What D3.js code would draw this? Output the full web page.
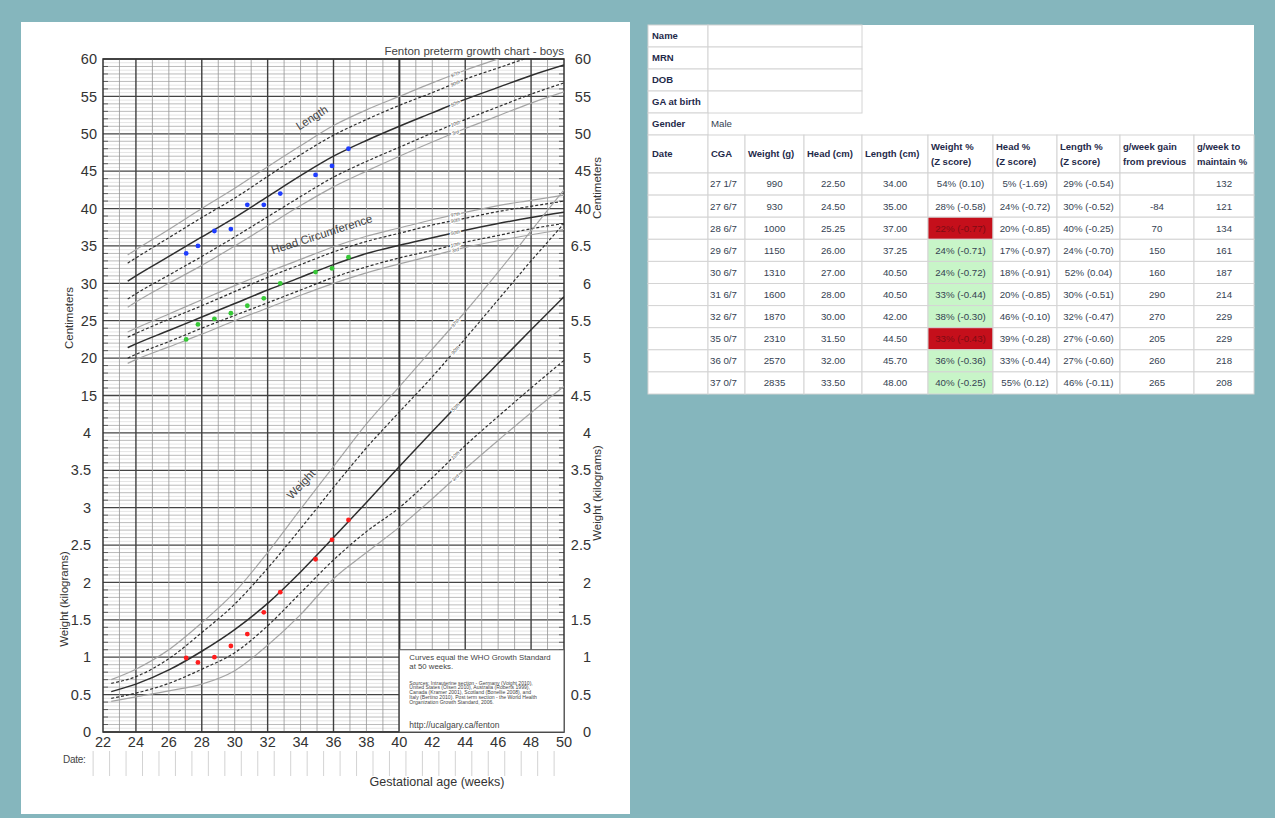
<!DOCTYPE html>
<html lang="en">
<head>
<meta charset="utf-8">
<title>Fenton preterm growth chart - boys</title>
<script src="https://cdn.jsdelivr.net/npm/d3@7/dist/d3.min.js"></script>
<style>
    html, body { margin: 0; padding: 0; background: #85b6bd; overflow: hidden; }
    svg { display: block; font-family: "Liberation Sans", Arial, Helvetica, sans-serif; }
    .panel { fill: #fff; }
    .grid-fine { stroke: #d4d4d4; stroke-width: 0.6; }
    .grid-cm { stroke: #a9a9a9; stroke-width: 0.8; }
    .grid-major { stroke: #444; stroke-width: 1.3; }
    .grid-week { stroke: #949494; stroke-width: 0.8; }
    .grid-month { stroke: #3f3f3f; stroke-width: 1.4; }
    .grid-term { stroke: #333; stroke-width: 2; }
    .frame { fill: none; stroke: #333; stroke-width: 1.5; }
    .tick { stroke: #444; stroke-width: 0.8; }
    .axis-label { font-size: 14.5px; fill: #333; }
    .axis-title { font-size: 11.5px; fill: #333; }
    .chart-title { font-size: 11.5px; fill: #444; }
    .curve { fill: none; }
    .p-outer { stroke: #a4a4a4; stroke-width: 1.2; }
    .p-inner { stroke: #2e2e2e; stroke-width: 1.2; stroke-dasharray: 3 2; }
    .p-mid { stroke: #2e2e2e; stroke-width: 1.5; }
    .pct-label { font-size: 5px; font-style: italic; fill: #555; stroke: #fff; stroke-width: 2.2; paint-order: stroke; }
    .curve-name { font-size: 11.5px; fill: #444; }
    .date-line { stroke: #c8c8c8; stroke-width: 0.8; }
    .notes-box { fill: #fff; stroke: #555; stroke-width: 1; }
    .notes { fill: #444; }
    .cell { fill: #fff; stroke: #d4d4d4; stroke-width: 1; }
    .th { font-size: 9.5px; font-weight: bold; fill: #1f2a4a; }
    .td { font-size: 9.7px; fill: #353f52; }
</style>
</head>
<body>
<svg id="chart" width="1275" height="818"></svg>
<script>
// Fenton preterm growth chart (boys) with a patient measurement table

// Gestational age ticks (weeks)
const ageTicks = [22, 24, 26, 28, 30, 32, 34, 36, 38, 40, 42, 44, 46, 48, 50];

// Y labels, bottom to top, one per major grid line
const leftLabels = ['0', '0.5', '1', '1.5', '2', '2.5', '3', '3.5', '4',
    '15', '20', '25', '30', '35', '40', '45', '50', '55', '60'];
const rightLabels = ['0', '0.5', '1', '1.5', '2', '2.5', '3', '3.5', '4', '4.5',
    '5', '5.5', '6', '6.5', '40', '45', '50', '55', '60'];

// Weight curves (kg)
const weightWeeks = [22.5, 24, 26, 28, 30, 32, 34, 36, 38, 40, 42, 44, 46, 48, 50];
const weightP97 = [0.70, 0.84, 1.10, 1.46, 1.87, 2.40, 2.98, 3.55, 4.12, 4.62, 5.12, 5.62, 6.15, 6.70, 7.25];
const weightP90 = [0.65, 0.74, 0.98, 1.33, 1.71, 2.19, 2.72, 3.27, 3.80, 4.28, 4.75, 5.26, 5.78, 6.30, 6.80];
const weightP50 = [0.54, 0.64, 0.83, 1.08, 1.37, 1.72, 2.14, 2.60, 3.07, 3.55, 4.02, 4.48, 4.93, 5.38, 5.82];
const weightP10 = [0.45, 0.52, 0.65, 0.84, 1.06, 1.42, 1.86, 2.30, 2.68, 3.00, 3.40, 3.83, 4.22, 4.60, 4.97];
const weightP3  = [0.41, 0.47, 0.55, 0.64, 0.82, 1.16, 1.57, 2.05, 2.40, 2.74, 3.12, 3.52, 3.90, 4.27, 4.62];

// Length curves (cm)
const lengthWeeks = [23.5, 24, 26, 28, 30, 32, 34, 36, 38, 40, 42, 44, 46, 48, 50];
const lengthP97 = [33.8, 34.5, 37.2, 40.0, 42.7, 45.6, 48.4, 51.1, 53.2, 55.0, 56.8, 58.5, 60.0, 61.5, 62.8];
const lengthP90 = [32.7, 33.4, 36.1, 38.8, 41.4, 44.3, 47.2, 49.8, 51.9, 53.8, 55.5, 57.3, 58.8, 60.3, 61.6];
const lengthP50 = [30.3, 31.0, 33.6, 36.2, 38.8, 41.6, 44.4, 47.0, 49.1, 51.0, 52.8, 54.6, 56.2, 57.8, 59.2];
const lengthP10 = [27.9, 28.6, 31.1, 33.6, 36.2, 38.9, 41.6, 44.2, 46.3, 48.2, 50.1, 51.9, 53.6, 55.3, 56.8];
const lengthP3  = [26.8, 27.5, 30.0, 32.4, 35.0, 37.7, 40.4, 42.9, 45.0, 47.0, 48.9, 50.7, 52.4, 54.1, 55.6];

// Head circumference curves (cm)
const headWeeks = [23.5, 24, 26, 28, 30, 32, 34, 36, 38, 40, 42, 44, 46, 48, 50];
const headP97 = [23.5, 24.0, 25.9, 27.8, 29.7, 31.5, 33.2, 34.9, 36.3, 37.4, 38.5, 39.5, 40.4, 41.1, 41.8];
const headP90 = [22.8, 23.3, 25.2, 27.0, 28.9, 30.8, 32.5, 34.2, 35.6, 36.7, 37.8, 38.7, 39.6, 40.3, 41.0];
const headP50 = [21.4, 21.9, 23.7, 25.5, 27.3, 29.1, 30.8, 32.5, 34.0, 35.1, 36.1, 37.1, 38.0, 38.8, 39.5];
const headP10 = [20.0, 20.5, 22.2, 24.0, 25.7, 27.4, 29.1, 30.8, 32.2, 33.4, 34.4, 35.5, 36.4, 37.3, 38.0];
const headP3  = [19.3, 19.8, 21.5, 23.2, 25.0, 26.7, 28.4, 30.0, 31.4, 32.6, 33.7, 34.8, 35.7, 36.5, 37.2];

const percentileNames = ['97th', '90th', '50th', '10th', '3rd'];

// Patient visits
const visitCga = ['27 1/7', '27 6/7', '28 6/7', '29 6/7', '30 6/7', '31 6/7', '32 6/7', '35 0/7', '36 0/7', '37 0/7'];
const visitWeight = [990, 930, 1000, 1150, 1310, 1600, 1870, 2310, 2570, 2835];
const visitHead = [22.50, 24.50, 25.25, 26.00, 27.00, 28.00, 30.00, 31.50, 32.00, 33.50];
const visitLength = [34.00, 35.00, 37.00, 37.25, 40.50, 40.50, 42.00, 44.50, 45.70, 48.00];
const weightPct = ['54% (0.10)', '28% (-0.58)', '22% (-0.77)', '24% (-0.71)', '24% (-0.72)',
    '33% (-0.44)', '38% (-0.30)', '33% (-0.43)', '36% (-0.36)', '40% (-0.25)'];
const headPct = ['5% (-1.69)', '24% (-0.72)', '20% (-0.85)', '17% (-0.97)', '18% (-0.91)',
    '20% (-0.85)', '46% (-0.10)', '39% (-0.28)', '33% (-0.44)', '55% (0.12)'];
const lengthPct = ['29% (-0.54)', '30% (-0.52)', '40% (-0.25)', '24% (-0.70)', '52% (0.04)',
    '30% (-0.51)', '32% (-0.47)', '27% (-0.60)', '27% (-0.60)', '46% (-0.11)'];
const gainFromPrevious = ['', '-84', '70', '150', '160', '290', '270', '205', '260', '265'];
const gainToMaintain = ['132', '121', '134', '161', '187', '214', '229', '229', '218', '208'];
const weightFlags = ['', '', 'low', 'ok', 'ok', 'ok', 'ok', 'low', 'ok', 'ok'];

// Patient details block
const infoLabels = ['Name', 'MRN', 'DOB', 'GA at birth', 'Gender'];
const infoValues = ['', '', '', '', 'Male'];

const headerLines = [['Date'], ['CGA'], ['Weight (g)'], ['Head (cm)'], ['Length (cm)'],
    ['Weight %', '(Z score)'], ['Head %', '(Z score)'], ['Length %', '(Z score)'],
    ['g/week gain', 'from previous'], ['g/week to', 'maintain %']];

const svg = d3.select('#chart');

// Scales: one shared pixel grid, weight in kg below and cm above
const x = d3.scaleLinear().domain([22, 50]).range([103, 564]);
const yKg = d3.scaleLinear().domain([0, 9]).range([732, 59]);
const yCm = d3.scaleLinear().domain([0, 60]).range([yKg(3), yKg(9)]);

function cgaToWeeks(s) {
    const [w, frac] = s.split(' ');
    return +w + (+frac.split('/')[0]) / 7;
}

// Linear lookup on a curve (used to place its percentile label)
function valueAt(weeks, values, w) {
    const i = Math.max(0, Math.min(weeks.length - 2, d3.bisectRight(weeks, w) - 1));
    const t = (w - weeks[i]) / (weeks[i + 1] - weeks[i]);
    return values[i] + t * (values[i + 1] - values[i]);
}

function drawPanels() {
    svg.append('rect').attr('class', 'panel')
        .attr('x', 21).attr('y', 22).attr('width', 609).attr('height', 792);
    svg.append('rect').attr('class', 'panel')
        .attr('x', 648).attr('y', 25).attr('width', 606).attr('height', 369);
}

function drawGrid() {
    const g = svg.append('g');
    const [x0, x1] = x.range();

    // Horizontal lines every 0.05 kg (half a cm), darker each 0.1, dark each 0.5
    d3.range(0, 181).forEach(i => {
        const v = i * 0.05;
        const cls = i % 10 === 0 ? 'grid-major' : (i % 2 === 0 ? 'grid-cm' : 'grid-fine');
        g.append('line').attr('class', cls)
            .attr('x1', x0).attr('x2', x1)
            .attr('y1', yKg(v)).attr('y2', yKg(v));
        if (i % 2 === 0 && i % 10 !== 0) {
            g.append('line').attr('class', 'tick')
                .attr('x1', x0).attr('x2', x0 + 5).attr('y1', yKg(v)).attr('y2', yKg(v));
            g.append('line').attr('class', 'tick')
                .attr('x1', x1 - 5).attr('x2', x1).attr('y1', yKg(v)).attr('y2', yKg(v));
        }
    });

    // Vertical lines every week, heavy every 4 weeks, heaviest at term
    d3.range(23, 50).forEach(w => {
        const cls = w === 40 ? 'grid-term' : ((w - 24) % 4 === 0 ? 'grid-month' : 'grid-week');
        g.append('line').attr('class', cls)
            .attr('x1', x(w)).attr('x2', x(w))
            .attr('y1', yKg(9)).attr('y2', yKg(0));
    });

    g.append('rect').attr('class', 'frame')
        .attr('x', x0).attr('y', yKg(9))
        .attr('width', x1 - x0).attr('height', yKg(0) - yKg(9));
}

function drawAxes() {
    const g = svg.append('g');
    const majors = d3.range(0, 9.01, 0.5);

    g.selectAll('text.left').data(majors).enter().append('text')
        .attr('class', 'axis-label left')
        .attr('x', (d, i) => i < 9 ? 91 : 97)
        .attr('y', d => yKg(d))
        .attr('dy', '0.36em')
        .attr('text-anchor', 'end')
        .text((d, i) => leftLabels[i]);

    g.selectAll('text.right').data(majors).enter().append('text')
        .attr('class', 'axis-label right')
        .attr('x', 591)
        .attr('y', d => yKg(d))
        .attr('dy', '0.36em')
        .attr('text-anchor', 'end')
        .text((d, i) => rightLabels[i]);

    g.selectAll('text.bottom').data(ageTicks).enter().append('text')
        .attr('class', 'axis-label bottom')
        .attr('x', d => x(d))
        .attr('y', 747)
        .attr('text-anchor', 'middle')
        .text(d => d);

    const titles = [
        { text: 'Centimeters', x: 73, y: 318 },
        { text: 'Weight (kilograms)', x: 68, y: 599 },
        { text: 'Centimeters', x: 601, y: 188 },
        { text: 'Weight (kilograms)', x: 601, y: 493 }
    ];
    g.selectAll('text.axis-title').data(titles).enter().append('text')
        .attr('class', 'axis-title')
        .attr('text-anchor', 'middle')
        .attr('transform', d => `translate(${d.x},${d.y}) rotate(-90)`)
        .text(d => d.text);

    g.append('text').attr('class', 'chart-title')
        .attr('x', 564).attr('y', 55).attr('text-anchor', 'end')
        .text('Fenton preterm growth chart - boys');

    // Date row under the age axis
    g.append('text').attr('x', 63).attr('y', 763)
        .attr('font-size', 10).attr('fill', '#444').attr('letter-spacing', -0.3)
        .text('Date:');
    g.selectAll('line.date-line').data(d3.range(21.4, 50, 1)).enter().append('line')
        .attr('class', 'date-line')
        .attr('x1', d => x(d)).attr('x2', d => x(d))
        .attr('y1', 751).attr('y2', 776);

    g.append('text').attr('x', 437).attr('y', 786)
        .attr('text-anchor', 'middle').attr('font-size', 12.5).attr('fill', '#333')
        .text('Gestational age (weeks)');
}

function drawNotes() {
    const g = svg.append('g');
    const left = x(40), top = yKg(1.1);
    g.append('rect').attr('class', 'notes-box')
        .attr('x', left).attr('y', top)
        .attr('width', x(50) - left).attr('height', yKg(0) - top);

    const big = ['Curves equal the WHO Growth Standard', 'at 50 weeks.'];
    g.selectAll('text.big').data(big).enter().append('text')
        .attr('class', 'notes big').attr('font-size', 7.8)
        .attr('x', left + 10).attr('y', (d, i) => top + 10.5 + i * 8.5)
        .text(d => d);

    const small = [
        'Sources: Intrauterine section - Germany (Voight 2010),',
        'United States (Olsen 2010), Australia (Roberts 1999),',
        'Canada (Kramer 2001), Scotland (Bonellie 2008), and',
        'Italy (Bertino 2010). Post term section - the World Health',
        'Organization Growth Standard, 2006.'
    ];
    g.selectAll('text.small').data(small).enter().append('text')
        .attr('class', 'notes small').attr('font-size', 5.1)
        .attr('x', left + 10).attr('y', (d, i) => top + 35 + i * 4.7)
        .text(d => d);

    g.append('text').attr('class', 'notes').attr('font-size', 8.5)
        .attr('x', left + 10).attr('y', top + 78)
        .text('http://ucalgary.ca/fenton');
}

function drawCurves() {
    svg.append('clipPath').attr('id', 'plot-clip')
        .append('rect')
        .attr('x', x(22)).attr('y', yKg(9))
        .attr('width', x(50) - x(22)).attr('height', yKg(0) - yKg(9));

    const g = svg.append('g').attr('clip-path', 'url(#plot-clip)');
    const labels = svg.append('g');
    const styles = ['p-outer', 'p-inner', 'p-mid', 'p-inner', 'p-outer'];

    const sets = [
        { weeks: lengthWeeks, curves: [lengthP97, lengthP90, lengthP50, lengthP10, lengthP3], y: yCm },
        { weeks: headWeeks, curves: [headP97, headP90, headP50, headP10, headP3], y: yCm },
        { weeks: weightWeeks, curves: [weightP97, weightP90, weightP50, weightP10, weightP3], y: yKg }
    ];

    sets.forEach(set => {
        const line = d3.line()
            .x(d => x(d[0]))
            .y(d => set.y(d[1]))
            .curve(d3.curveMonotoneX);

        set.curves.forEach((values, i) => {
            g.append('path')
                .attr('class', `curve ${styles[i]}`)
                .attr('d', line(set.weeks.map((w, j) => [w, values[j]])));

            // Percentile tag just after term, turned along the curve
            const w = 43.4;
            const px = x(w), py = set.y(valueAt(set.weeks, values, w));
            const dy = set.y(valueAt(set.weeks, values, w + 0.5)) - set.y(valueAt(set.weeks, values, w - 0.5));
            const angle = Math.atan2(dy, x(w + 0.5) - x(w - 0.5)) * 180 / Math.PI;
            labels.append('text')
                .attr('class', 'pct-label')
                .attr('text-anchor', 'middle')
                .attr('dy', '0.35em')
                .attr('transform', `translate(${px},${py}) rotate(${angle})`)
                .text(percentileNames[i]);
        });
    });

    const names = [
        { text: 'Length', x: 314, y: 121, angle: -33 },
        { text: 'Head Circumference', x: 323, y: 238, angle: -18 },
        { text: 'Weight', x: 304, y: 487, angle: -47 }
    ];
    labels.selectAll('text.curve-name').data(names).enter().append('text')
        .attr('class', 'curve-name')
        .attr('text-anchor', 'middle')
        .attr('transform', d => `translate(${d.x},${d.y}) rotate(${d.angle})`)
        .text(d => d.text);
}

function drawVisits() {
    const weeks = visitCga.map(cgaToWeeks);
    const g = svg.append('g');
    const series = [
        { values: visitLength, y: yCm, color: '#1f3dff' },
        { values: visitHead, y: yCm, color: '#37c837' },
        { values: visitWeight.map(v => v / 1000), y: yKg, color: '#ff1d1d' }
    ];
    series.forEach(s => {
        g.selectAll(null).data(s.values).enter().append('circle')
            .attr('cx', (d, i) => x(weeks[i]) - 1.5)
            .attr('cy', d => s.y(d))
            .attr('r', 2.4)
            .attr('fill', s.color);
    });
}

function drawTable() {
    const g = svg.append('g');
    const cols = [648, 708, 745, 804, 862, 928, 993, 1057, 1120, 1194, 1254];
    const infoRow = d3.scaleLinear().domain([0, 5]).range([25, 135]);
    const headTop = 135, headBottom = 173;
    const dataRow = d3.scaleLinear().domain([0, 10]).range([173, 394]);

    // Patient details
    infoLabels.forEach((label, i) => {
        const y0 = infoRow(i), y1 = infoRow(i + 1);
        const last = i === infoLabels.length - 1;
        g.append('rect').attr('class', 'cell')
            .attr('x', cols[0]).attr('y', y0).attr('width', cols[1] - cols[0]).attr('height', y1 - y0);
        if (!last) {
            g.append('rect').attr('class', 'cell')
                .attr('x', cols[1]).attr('y', y0).attr('width', cols[4] - cols[1]).attr('height', y1 - y0);
        }
        g.append('text').attr('class', 'th')
            .attr('x', cols[0] + 4).attr('y', (y0 + y1) / 2).attr('dy', '0.35em')
            .text(label);
        g.append('text').attr('class', 'td').attr('font-size', 9)
            .attr('x', cols[1] + 3).attr('y', (y0 + y1) / 2).attr('dy', '0.35em')
            .text(infoValues[i]);
    });

    // Column headers
    headerLines.forEach((lines, c) => {
        g.append('rect').attr('class', 'cell')
            .attr('x', cols[c]).attr('y', headTop)
            .attr('width', cols[c + 1] - cols[c]).attr('height', headBottom - headTop);
        const mid = (headTop + headBottom) / 2;
        lines.forEach((line, k) => {
            g.append('text').attr('class', 'th')
                .attr('x', cols[c] + (c === 0 ? 4 : 3))
                .attr('y', mid + (k - (lines.length - 1) / 2) * 15)
                .attr('dy', '0.35em')
                .text(line);
        });
    });

    // Visit rows
    visitCga.forEach((cga, r) => {
        const y0 = dataRow(r), y1 = dataRow(r + 1), mid = (y0 + y1) / 2;
        const cells = ['', cga, visitWeight[r], visitHead[r].toFixed(2), visitLength[r].toFixed(2),
            weightPct[r], headPct[r], lengthPct[r], gainFromPrevious[r], gainToMaintain[r]];
        cells.forEach((val, c) => {
            let fill = '#fff';
            let color = null;
            if (c === 5 && weightFlags[r] === 'low') { fill = '#c50f1b'; color = '#7d0c14'; }
            if (c === 5 && weightFlags[r] === 'ok') { fill = '#c8f5c8'; }
            g.append('rect').attr('class', 'cell')
                .attr('x', cols[c]).attr('y', y0)
                .attr('width', cols[c + 1] - cols[c]).attr('height', y1 - y0)
                .style('fill', fill);
            const t = g.append('text').attr('class', 'td')
                .attr('y', mid).attr('dy', '0.35em')
                .text(val);
            if (c === 1) {
                t.attr('x', cols[c] + 2);
            } else {
                t.attr('x', (cols[c] + cols[c + 1]) / 2).attr('text-anchor', 'middle');
            }
            if (color) t.style('fill', color);
        });
    });
}

drawPanels();
drawGrid();
drawNotes();
drawAxes();
drawCurves();
drawVisits();
drawTable();
</script>
</body>
</html>
